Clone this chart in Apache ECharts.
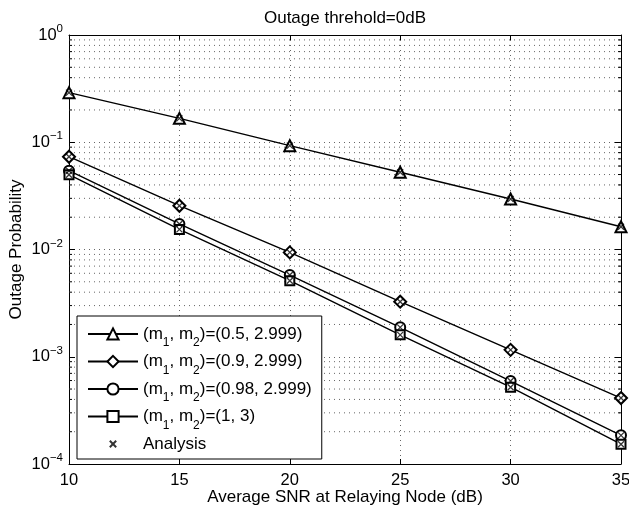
<!DOCTYPE html>
<html>
<head>
<meta charset="utf-8">
<script src="https://cdn.jsdelivr.net/npm/echarts@6/dist/echarts.min.js"></script>
<style>
  html, body { margin: 0; padding: 0; background: #fff; }
  #chart { width: 629px; height: 509px; }
</style>
</head>
<body>
<div id="chart"></div>
<script>
// x values (average SNR, dB)
const snr = [10, 15, 20, 25, 30, 35];

// outage probability
const pM05 = [0.29, 0.167, 0.093, 0.0525, 0.0296, 0.0163];
const pM09 = [0.0733, 0.0256, 0.0094, 0.00326, 0.00116, 0.000412];
const pM098 = [0.0543, 0.0173, 0.00578, 0.00188, 0.000594, 0.000185];
const pM1 = [0.0498, 0.0154, 0.00512, 0.0016, 0.00052, 0.000153];

const seriesNames = [
  "(m1, m2)=(0.5, 2.999)",
  "(m1, m2)=(0.9, 2.999)",
  "(m1, m2)=(0.98, 2.999)",
  "(m1, m2)=(1, 3)",
];
const seriesSymbols = ["emptyTriangle", "emptyDiamond", "emptyCircle", "emptyRect"];
const seriesSizes = [11, 12, 10, 9];
const seriesValues = [pM05, pM09, pM098, pM1];

// minor log grid values (2..9 within each decade)
const minorTicks = [];
for (let d = -4; d < 0; d++) {
  for (let k = 2; k <= 9; k++) minorTicks.push(k * Math.pow(10, d));
}

const FONT = "Liberation Sans";
const crossPath = "path://M0,0L10,10M10,0L0,10";
// same cross, padded with move-to points so the legend draws it small
const crossLegend = "path://M-6,-6M16,16M0,0L10,10M10,0L0,10";

const chart = echarts.init(document.getElementById("chart"), null, { renderer: "canvas" });

/** dotted grid style shared by major lines */
const dotted = { color: "#666", width: 1, type: [1, 4] };

const lineSeries = seriesValues.map((vals, i) => ({
  name: seriesNames[i],
  type: "line",
  data: snr.map((x, j) => [x, vals[j]]),
  symbol: seriesSymbols[i],
  symbolSize: seriesSizes[i],
  showSymbol: true,
  lineStyle: { color: "#000", width: 1.4 },
  itemStyle: { color: "#000", borderColor: "#000", borderWidth: 1.2 },
  z: 3,
}));

const analysisSeries = {
  name: "Analysis",
  type: "scatter",
  data: seriesValues.flatMap((vals) => snr.map((x, j) => [x, vals[j]])),
  symbol: crossPath,
  symbolSize: 6,
  itemStyle: { color: "#000", borderColor: "#000", borderWidth: 1.3 },
  z: 4,
};

const minorGrid = {
  type: "custom",
  silent: true,
  data: minorTicks.map((v) => [10, v]),
  z: 1,
  renderItem: (params, api) => {
    const cs = params.coordSys;
    const y = api.coord([10, api.value(1)])[1];
    const x0 = cs.x, x1 = cs.x + cs.width;
    return {
      type: "group",
      children: [
        { type: "line", shape: { x1: x0, y1: y, x2: x1, y2: y }, style: { stroke: "#666", lineWidth: 1, lineDash: [1, 4] } },
        { type: "line", shape: { x1: x0, y1: y, x2: x0 + 3, y2: y }, style: { stroke: "#000", lineWidth: 1 } },
        { type: "line", shape: { x1: x1 - 3, y1: y, x2: x1, y2: y }, style: { stroke: "#000", lineWidth: 1 } },
      ],
    };
  },
};

const option = {
  animation: false,
  backgroundColor: "#fff",
  textStyle: { fontFamily: FONT, color: "#000" },
  title: {
    text: "Outage threhold=0dB",
    left: 340,
    textAlign: "center",
    top: 5,
    textStyle: { fontFamily: FONT, fontSize: 17, fontWeight: "normal", color: "#000" },
  },
  grid: { left: 69, right: 8, top: 35, bottom: 45, outerBoundsMode: "none", containLabel: false },
  legend: {
    orient: "vertical",
    left: 77,
    top: 316,
    width: 240,
    padding: [3, 10, 0, 10],
    itemWidth: 50,
    itemHeight: 14,
    itemGap: -2.5,
    backgroundColor: "#fff",
    borderColor: "#000",
    borderWidth: 1,
    data: [...seriesNames, { name: "Analysis", icon: crossLegend }],
    formatter: (name) => name.replace(/m(\d)/g, "m{sub|$1}"),
    textStyle: {
      fontFamily: FONT,
      fontSize: 17,
      lineHeight: 30,
      color: "#000",
      rich: { sub: { fontFamily: FONT, fontSize: 12, lineHeight: 12, padding: [18, 0, 0, 0], color: "#000" } },
    },
  },
  xAxis: [
    {
      type: "value",
      min: 10,
      max: 35,
      interval: 5,
      name: "Average SNR at Relaying Node (dB)",
      nameLocation: "middle",
      nameGap: 25,
      nameMoveOverlap: false,
      nameTextStyle: { fontFamily: FONT, fontSize: 17, color: "#000" },
      axisLine: { lineStyle: { color: "#000", width: 1 } },
      axisTick: { inside: true, length: 5, lineStyle: { color: "#000" } },
      axisLabel: { fontFamily: FONT, fontSize: 16.5, color: "#000", margin: 8 },
      splitLine: { show: true, lineStyle: dotted },
    },
    {
      type: "value",
      position: "top",
      min: 10,
      max: 35,
      interval: 5,
      axisLine: { lineStyle: { color: "#000", width: 1 } },
      axisTick: { inside: true, length: 5, lineStyle: { color: "#000" } },
      axisLabel: { show: false },
      splitLine: { show: false },
    },
  ],
  yAxis: [
    {
      type: "log",
      logBase: 10,
      min: 1e-4,
      max: 1,
      name: "Outage Probability",
      nameLocation: "middle",
      nameGap: 44,
      nameMoveOverlap: false,
      nameTextStyle: { fontFamily: FONT, fontSize: 17, color: "#000" },
      axisLine: { lineStyle: { color: "#000", width: 1 } },
      axisTick: { inside: true, length: 6, lineStyle: { color: "#000" } },
      axisLabel: {
        margin: 6,
        formatter: (v) => "{b|10}{sup|" + String(Math.round(Math.log10(v))).replace("-", "\u2212") + "}",
        rich: {
          b: { fontFamily: FONT, fontSize: 16.5, color: "#000", lineHeight: 24 },
          sup: { fontFamily: FONT, fontSize: 11.5, color: "#000", verticalAlign: "top" },
        },
      },
      splitLine: { show: true, lineStyle: dotted },
    },
    {
      type: "log",
      logBase: 10,
      position: "right",
      min: 1e-4,
      max: 1,
      axisLine: { lineStyle: { color: "#000", width: 1 } },
      axisTick: { inside: true, length: 6, lineStyle: { color: "#000" } },
      axisLabel: { show: false },
      splitLine: { show: false },
    },
  ],
  series: [minorGrid, ...lineSeries, analysisSeries],
};

chart.setOption(option);
</script>
</body>
</html>
